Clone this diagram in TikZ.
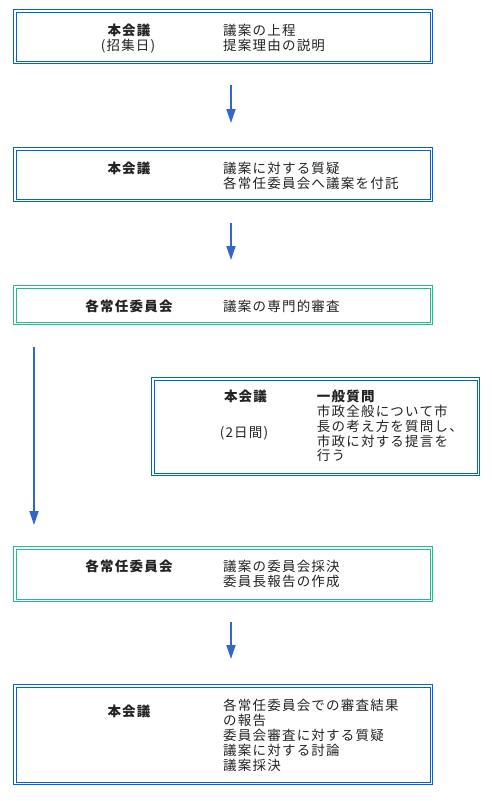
\documentclass[tikz,border=0pt]{standalone}
\usepackage{fontspec}
\setmainfont{Noto Sans CJK JP}[LetterSpace=9]
\usetikzlibrary{arrows.meta}
\definecolor{bblue}{RGB}{0,102,204}
\definecolor{bteal}{HTML}{20BC96}
\definecolor{arrblue}{RGB}{51,102,204}
\definecolor{txt}{HTML}{222222}
\begin{document}
\begin{tikzpicture}[x=1pt,y=-1pt,
  boxbase/.style={rectangle,inner sep=0pt,outer sep=0pt,line width=1pt,double=white,double distance=1.6pt,anchor=north west},
  bluebox/.style={boxbase,draw=bblue},
  tealbox/.style={boxbase,draw=bteal},
  lt/.style={anchor=base west,inner sep=0pt,text=txt,font=\fontsize{13.5}{15}\selectfont},
  ct/.style={anchor=base,inner sep=0pt,text=txt,font=\fontsize{13.5}{15}\selectfont},
  bt/.style={ct,font=\fontsize{13.5}{15}\selectfont\bfseries},
  blt/.style={lt,font=\fontsize{13.5}{15}\selectfont\bfseries},
  arr/.style={draw=arrblue,line width=2pt,-{Triangle[length=14pt,width=9pt]}}
]
\useasboundingbox (0,0) rectangle (492,801);
\coordinate (ax) at (231,0);
\coordinate (lx) at (34,0);
% boxes
\node[bluebox,minimum width=416.6pt,minimum height=51.6pt] (b1) at (14.7,10.7) {};
\node[bluebox,minimum width=416.6pt,minimum height=51.6pt] (b2) at (14.7,148.7) {};
\node[tealbox,minimum width=416.6pt,minimum height=36.6pt] (b3) at (14.7,286.7) {};
\node[bluebox,minimum width=325.6pt,minimum height=95.6pt] (b4) at (152.7,378.7) {};
\node[tealbox,minimum width=416.6pt,minimum height=52.6pt] (b5) at (14.7,547.7) {};
\node[bluebox,minimum width=416.6pt,minimum height=97.6pt] (b6) at (14.7,685.7) {};
% box 1
\node[bt] (t1a) at (129,35) {本会議};
\node[ct] (t1b) at (128,50) {(招集日)};
\node[lt] (t1c) at (223,35) {議案の上程};
\node[lt] (t1d) at (223,50) {提案理由の説明};
% box 2
\node[bt] (t2a) at (129,173) {本会議};
\node[lt] (t2c) at (223,173) {議案に対する質疑};
\node[lt] (t2d) at (223,188) {各常任委員会へ議案を付託};
% box 3
\node[bt] (t3a) at (129,311) {各常任委員会};
\node[lt] (t3c) at (223,311) {議案の専門的審査};
% box 4
\node[bt] (t4a) at (245.5,401) {本会議};
\node[ct] (t4b) at (244,437.7) {(2日間)};
\node[blt] (t4c) at (316.7,401) {一般質問};
\node[lt] (t4d) at (316.7,416) {市政全般について市};
\node[lt] (t4e) at (316.7,431) {長の考え方を質問し、};
\node[lt] (t4f) at (316.7,446) {市政に対する提言を};
\node[lt] (t4g) at (316.7,460) {行う};
% box 5
\node[bt] (t5a) at (129,571.7) {各常任委員会};
\node[lt] (t5c) at (223,571.7) {議案の委員会採決};
\node[lt] (t5d) at (223,586.7) {委員長報告の作成};
% box 6
\node[bt] (t6a) at (129,716.7) {本会議};
\node[lt] (t6c) at (223,710) {各常任委員会での審査結果};
\node[lt] (t6d) at (223,725) {の報告};
\node[lt] (t6e) at (223,740) {委員会審査に対する質疑};
\node[lt] (t6f) at (223,755) {議案に対する討論};
\node[lt] (t6g) at (223,770) {議案採決};
% arrows
\draw[arr,shorten <=22.7pt,shorten >=25.7pt] (b1.south -| ax) -- (b2.north -| ax);
\draw[arr,shorten <=22.7pt,shorten >=26.7pt] (b2.south -| ax) -- (b3.north -| ax);
\draw[arr,shorten <=23.7pt,shorten >=22.7pt] (b3.south -| lx) -- (b5.north -| lx);
\draw[arr,shorten <=21.7pt,shorten >=26.7pt] (b5.south -| ax) -- (b6.north -| ax);
\end{tikzpicture}
\end{document}
